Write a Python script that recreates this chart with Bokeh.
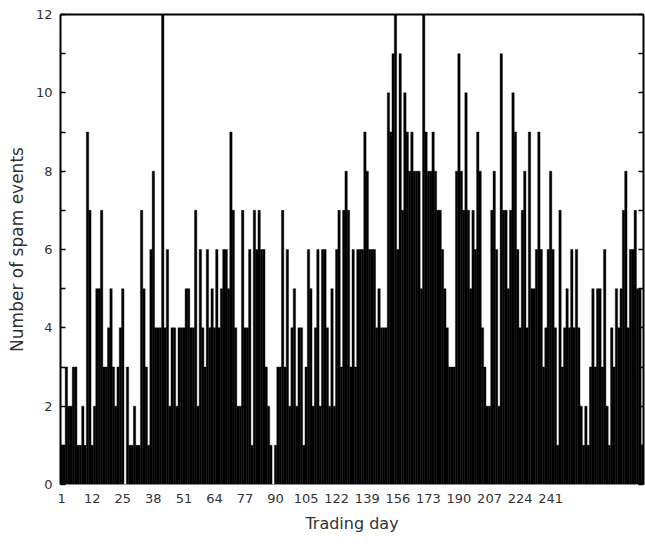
from bokeh.plotting import figure
from bokeh.models import FixedTicker, LinearAxis, Range1d, ColumnDataSource
from bokeh.embed import file_html
from bokeh.resources import INLINE

# spam events per trading day
spam_events = [
    1, 1, 3, 2, 2, 3, 3, 1, 1, 2, 1, 9, 7, 1, 2, 5, 5, 7, 3, 3, 4,
    5, 3, 2, 3, 4, 5, 0, 3, 1, 1, 2, 1, 1, 7, 5, 3, 1, 6, 8, 4, 4,
    4, 12, 4, 6, 2, 4, 4, 2, 4, 4, 4, 5, 5, 4, 4, 7, 2, 6, 4, 3, 6, 4, 5,
    4, 6, 4, 5, 6, 6, 5, 9, 7, 4, 2, 2, 7, 4, 4, 6, 1, 7, 6, 7, 6, 6, 3, 2, 1, 0, 1,
    3, 3, 7, 3, 6, 2, 4, 5, 2, 4, 4, 1, 3, 6, 5, 2, 4, 6, 2, 6, 6,
    4, 2, 5, 2, 6, 7, 3, 7, 8, 7, 3, 6, 3, 6, 6, 6, 9, 8, 6, 6, 6, 4, 5, 4, 4, 4,
    10, 9, 11, 12, 6, 11, 7, 10, 9, 8, 9, 8, 8, 8, 5, 12, 9, 8, 8, 9, 8,
    7, 7, 6, 5, 4, 3, 3, 3, 8, 11, 8, 7, 10, 7, 5, 7, 6, 9, 8, 4, 3, 2, 2, 7, 8, 6, 2,
    11, 7, 7, 5, 7, 10, 9, 6, 4, 7, 8, 4, 9, 5, 5, 6, 9, 6, 3,
    4, 6, 8, 6, 4, 1, 7, 3, 4, 5, 4, 6, 4, 6, 4, 2, 1, 2, 1, 3, 5,
    3, 5, 5, 3, 6, 2, 1, 4, 3, 5, 4, 5, 7, 8, 4, 6, 6, 7, 5, 5, 1,
]
days = list(range(1, len(spam_events) + 1))

# x tick positions (bar index) and their labels
x_tick_pos = [1, 14, 27, 40, 53, 66, 79, 92, 105, 118, 131, 144, 157, 170, 183, 196, 209]
x_tick_labels = ["1", "12", "25", "38", "51", "64", "77", "90", "105", "122",
                 "139", "156", "173", "190", "207", "224", "241"]
y_major = [0, 2, 4, 6, 8, 10, 12]
y_minor = [1, 3, 5, 7, 9, 11]

FONT = "DejaVu Sans"
TXT = "#333333"

src = ColumnDataSource(dict(day=days, n=spam_events))

p = figure(width=645, height=540, output_backend="svg", toolbar_location=None,
           x_range=Range1d(0.5, len(days) + 0.5), y_range=Range1d(0, 12),
           x_axis_location="below", y_axis_location="left",
           min_border_left=60, min_border_top=14, min_border_right=2, min_border_bottom=56)
p.outline_line_color = None
p.grid.visible = False
p.background_fill_color = "white"
p.border_fill_color = "white"

p.vbar(x="day", top="n", width=1.0, bottom=0, source=src,
       fill_color="black", line_color="black", line_width=0.4)

# bottom axis
xa = p.xaxis[0]
xa.ticker = FixedTicker(ticks=x_tick_pos)
xa.major_label_overrides = {pos: lab for pos, lab in zip(x_tick_pos, x_tick_labels)}
xa.axis_line_color = None
xa.major_tick_line_color = None
xa.minor_tick_line_color = None
xa.major_label_standoff = 3
xa.major_label_text_font = FONT
xa.major_label_text_font_size = "13px"
xa.major_label_text_color = TXT
xa.axis_label = "Trading day"
xa.axis_label_text_font = FONT
xa.axis_label_text_font_size = "16px"
xa.axis_label_text_font_style = "normal"
xa.axis_label_text_color = TXT
xa.axis_label_standoff = 8

# left axis
ya = p.yaxis[0]
ya.ticker = FixedTicker(ticks=y_major, minor_ticks=y_minor)
ya.axis_line_width = 2
ya.axis_line_color = "black"
ya.major_tick_in = 5
ya.major_tick_out = 0
ya.minor_tick_in = 5
ya.minor_tick_out = 0
ya.major_tick_line_width = 1.5
ya.minor_tick_line_width = 1.5
ya.major_label_standoff = 8
ya.major_label_text_font = FONT
ya.major_label_text_font_size = "13px"
ya.major_label_text_color = TXT
ya.axis_label = "Number of spam events"
ya.axis_label_text_font = FONT
ya.axis_label_text_font_size = "17px"
ya.axis_label_text_font_style = "normal"
ya.axis_label_text_color = TXT
ya.axis_label_standoff = 6

# right axis (frame line with inward ticks)
ra = LinearAxis(ticker=FixedTicker(ticks=y_major, minor_ticks=y_minor))
ra.axis_line_width = 2
ra.major_tick_in = 5
ra.major_tick_out = 0
ra.minor_tick_in = 5
ra.minor_tick_out = 0
ra.major_tick_line_width = 1.5
ra.minor_tick_line_width = 1.5
ra.major_label_text_font_size = "0px"
ra.major_label_text_color = None
p.add_layout(ra, "right")

# top frame line
ta = LinearAxis(ticker=FixedTicker(ticks=[]))
ta.axis_line_width = 2
ta.major_tick_line_color = None
ta.minor_tick_line_color = None
ta.major_label_text_font_size = "0px"
ta.major_label_text_color = None
p.add_layout(ta, "above")

open("out.html", "w").write(file_html(p, INLINE))
